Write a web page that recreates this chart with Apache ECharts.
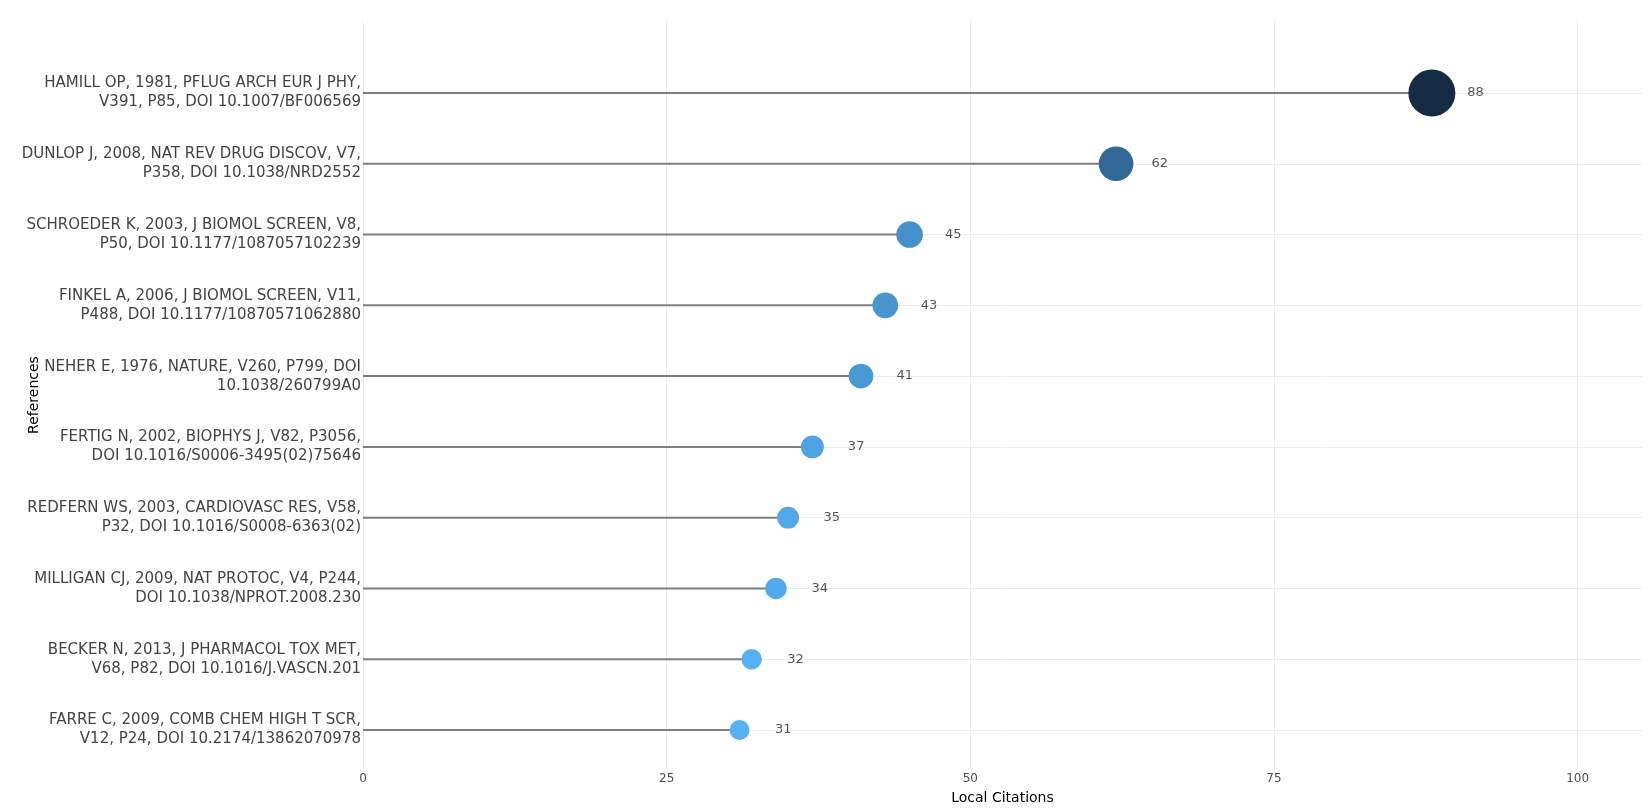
<!DOCTYPE html>
<html>
<head>
<meta charset="utf-8">
<title>Most Local Cited References</title>
<script src="https://cdn.jsdelivr.net/npm/echarts@6/dist/echarts.min.js"></script>
<style>
  html, body { margin: 0; padding: 0; background: #fff; }
  #chart { width: 1650px; height: 810px; }
</style>
</head>
<body>
<div id="chart"></div>
<script>
// references, top to bottom
let references = [
  'HAMILL OP, 1981, PFLUG ARCH EUR J PHY,\nV391, P85, DOI 10.1007/BF006569',
  'DUNLOP J, 2008, NAT REV DRUG DISCOV, V7,\nP358, DOI 10.1038/NRD2552',
  'SCHROEDER K, 2003, J BIOMOL SCREEN, V8,\nP50, DOI 10.1177/1087057102239',
  'FINKEL A, 2006, J BIOMOL SCREEN, V11,\nP488, DOI 10.1177/10870571062880',
  'NEHER E, 1976, NATURE, V260, P799, DOI\n10.1038/260799A0',
  'FERTIG N, 2002, BIOPHYS J, V82, P3056,\nDOI 10.1016/S0006-3495(02)75646',
  'REDFERN WS, 2003, CARDIOVASC RES, V58,\nP32, DOI 10.1016/S0008-6363(02)',
  'MILLIGAN CJ, 2009, NAT PROTOC, V4, P244,\nDOI 10.1038/NPROT.2008.230',
  'BECKER N, 2013, J PHARMACOL TOX MET,\nV68, P82, DOI 10.1016/J.VASCN.201',
  'FARRE C, 2009, COMB CHEM HIGH T SCR,\nV12, P24, DOI 10.2174/13862070978'
];
let localCitations = [88, 62, 45, 43, 41, 37, 35, 34, 32, 31];
let xTicks = [0, 25, 50, 75, 100];

let xMax = 105.3;
let labelShift = 3.6; // value labels sit a little right of the dot (data units)

let myChart = echarts.init(document.getElementById('chart'));

let dots = localCitations.map((v, i) => [v, references[i]]);
let labelPts = localCitations.map((v, i) => ({ value: [v + labelShift, references[i]], raw: v }));

let option = {
  animation: false,
  textStyle: { fontFamily: 'DejaVu Sans' },
  grid: [
    { left: 363, right: 8, top: 21, bottom: 37 },
    { left: 363, right: 8, top: 93, bottom: 80 }
  ],
  xAxis: [
    {
      gridIndex: 0,
      type: 'value',
      min: 0,
      max: xMax,
      interval: 25,
      name: 'Local Citations',
      nameLocation: 'middle',
      nameGap: 22,
      nameTextStyle: { color: '#000', fontSize: 14 },
      axisLine: { show: false },
      axisTick: { show: false },
      axisLabel: {
        color: '#4d4d4d', fontSize: 12, margin: 4, showMaxLabel: false,
        formatter: v => xTicks.indexOf(v) >= 0 ? String(v) : ''
      },
      splitLine: { show: true, showMaxLine: false, lineStyle: { color: '#ebebeb', width: 1 } }
    },
    {
      gridIndex: 1,
      type: 'value',
      min: 0,
      max: xMax,
      show: false
    }
  ],
  yAxis: [
    {
      gridIndex: 0,
      type: 'value',
      name: 'References',
      nameLocation: 'middle',
      nameGap: 322,
      nameRotate: 90,
      nameTextStyle: { color: '#000', fontSize: 14 },
      axisLine: { show: false },
      axisTick: { show: false },
      axisLabel: { show: false },
      splitLine: { show: false }
    },
    {
      gridIndex: 1,
      type: 'category',
      inverse: true,
      boundaryGap: false,
      data: references,
      axisLine: { show: false },
      axisTick: { show: false },
      axisLabel: { color: '#444', fontSize: 15, margin: 2, lineHeight: 19, align: 'right' },
      splitLine: { show: true, lineStyle: { color: '#ebebeb', width: 1 } }
    }
  ],
  visualMap: {
    show: false,
    type: 'continuous',
    seriesIndex: 1,
    dimension: 0,
    min: 31,
    max: 88,
    inRange: { color: ['#56B1F7', '#132B43'], symbolSize: [20, 47] }
  },
  series: [
    {
      type: 'bar',
      xAxisIndex: 1,
      yAxisIndex: 1,
      data: localCitations,
      barWidth: 2,
      itemStyle: { color: '#7f7f7f' },
      silent: true
    },
    {
      type: 'scatter',
      xAxisIndex: 1,
      yAxisIndex: 1,
      data: dots,
      symbol: 'circle',
      itemStyle: { opacity: 1 }
    },
    {
      type: 'scatter',
      xAxisIndex: 1,
      yAxisIndex: 1,
      data: labelPts,
      symbolSize: 0,
      label: {
        show: true,
        position: 'inside',
        color: '#2a2a2a',
        fontSize: 13,
        formatter: p => String(p.data.raw)
      },
      silent: true
    }
  ]
};
myChart.setOption(option);
</script>
</body>
</html>
